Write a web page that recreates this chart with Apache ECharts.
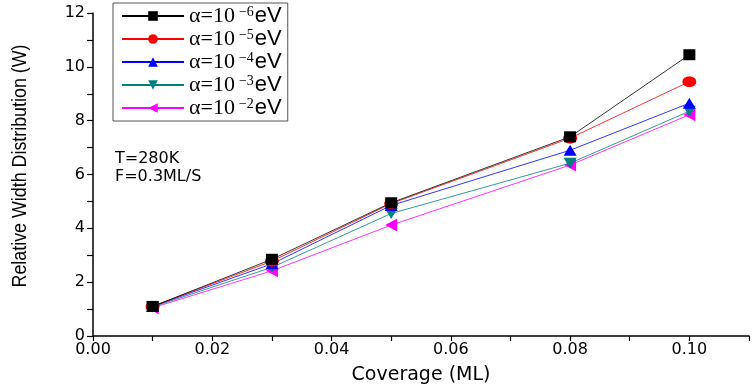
<!DOCTYPE html>
<html><head><meta charset="utf-8">
<script src="https://cdn.jsdelivr.net/npm/echarts@6/dist/echarts.min.js"></script>
<style>html,body{margin:0;padding:0;background:#fff}#c{width:752px;height:390px}</style>
</head><body><div id="c"></div>
<script>
const coverage = [0.01, 0.03, 0.05, 0.08, 0.10];
const seriesNames = ['α=10^-6eV', 'α=10^-5eV', 'α=10^-4eV', 'α=10^-3eV', 'α=10^-2eV'];
const w6 = [1.10, 2.85, 4.95, 7.40, 10.45];
const w5 = [1.10, 2.78, 4.92, 7.35, 9.45];
const w4 = [1.10, 2.68, 4.85, 6.90, 8.65];
const w3 = [1.08, 2.55, 4.55, 6.42, 8.35];
const w2 = [1.05, 2.42, 4.12, 6.35, 8.22];
const xTicks = ['0.00', '0.02', '0.04', '0.06', '0.08', '0.10'];
const yTicks = ['0', '2', '4', '6', '8', '10', '12'];
const annotations = ['T=280K', 'F=0.3ML/S'];
const yTitle = 'Relative Width Distribution (W)';
const xTitle = 'Coverage (ML)';

const colors = ['#000000', '#ff0000', '#0000ff', '#008080', '#ff00ff'];
const symbols = ['rect', 'circle', 'triangle', 'triangle', 'triangle'];
const rot = [0, 0, 0, 180, 90];
const sizes = [[12, 11], [14, 11], [13, 11], [13, 11], [13, 12]];
const vals = [w6, w5, w4, w3, w2];

const series = vals.map((v, i) => ({
  name: seriesNames[i],
  type: 'line',
  data: coverage.map((x, j) => [x, v[j]]),
  symbol: symbols[i],
  symbolRotate: rot[i],
  symbolSize: sizes[i],
  itemStyle: { color: colors[i] },
  lineStyle: { color: colors[i], width: 0.8 },
  z: 10 - i
})).reverse();

const sans = '"DejaVu Sans", sans-serif';
const arial = '"Liberation Sans", Arial, sans-serif';
const serif = '"Liberation Serif", "Times New Roman", serif';

const chart = echarts.init(document.getElementById('c'), null, { renderer: 'canvas' });
chart.setOption({
  animation: false,
  backgroundColor: '#fff',
  grid: { left: 93, right: -3, top: 13, bottom: 49 },
  xAxis: {
    type: 'value', min: 0, max: 0.11, interval: 0.01,
    splitLine: { show: false },
    axisLine: { lineStyle: { color: '#000', width: 1.5 } },
    axisTick: { inside: false, length: 5, lineStyle: { color: '#000', width: 1.2 } },
    axisLabel: {
      color: '#000', fontFamily: sans, fontSize: 16, margin: 6,
      formatter: v => { const k = Math.round(v * 100); return k % 2 === 0 && k <= 10 ? xTicks[k / 2] : ''; }
    },
    name: xTitle, nameLocation: 'middle', nameGap: 30,
    nameTextStyle: { color: '#000', fontFamily: sans, fontSize: 19 }
  },
  yAxis: {
    type: 'value', min: 0, max: 12, interval: 1,
    splitLine: { show: false },
    axisLine: { show: true, lineStyle: { color: '#000', width: 1.5 } },
    axisTick: { show: true, inside: false, length: 6, lineStyle: { color: '#000', width: 1.2 } },
    axisLabel: {
      color: '#000', fontFamily: sans, fontSize: 16, margin: 8,
      formatter: v => { const k = Math.round(v); return k % 2 === 0 ? yTicks[k / 2] : ''; }
    }
  },
  legend: {
    orient: 'vertical', left: 113, top: 3,
    data: seriesNames,
    itemWidth: 62, itemHeight: 12, itemGap: 1,
    padding: [2, 6, 2, 8],
    borderColor: '#555', borderWidth: 1,
    formatter: n => {
      const m = n.match(/\^(-\d)/);
      return '{base|α=10}{sup|' + m[1].replace('-', '−') + '}{unit|eV}';
    },
    textStyle: {
      lineHeight: 20,
      rich: {
        base: { fontFamily: serif, fontSize: 22, color: '#000', lineHeight: 20 },
        sup: { fontFamily: serif, fontSize: 14, color: '#000', lineHeight: 12, padding: [0, 1, 8, 4] },
        unit: { fontFamily: arial, fontSize: 22, color: '#000', lineHeight: 20 }
      }
    }
  },
  graphic: [
    { type: 'text', x: 20, y: 166, rotation: Math.PI / 2, scaleX: 0.85,
      style: { text: yTitle, fontFamily: arial, fontSize: 21, fill: '#000', align: 'center', verticalAlign: 'middle' } },
    { type: 'text', left: 115, top: 151, style: { text: annotations[0], fontFamily: sans, fontSize: 16, fill: '#000' } },
    { type: 'text', left: 115, top: 169, style: { text: annotations[1], fontFamily: sans, fontSize: 16, fill: '#000' } }
  ],
  series: series
});
</script></body></html>
